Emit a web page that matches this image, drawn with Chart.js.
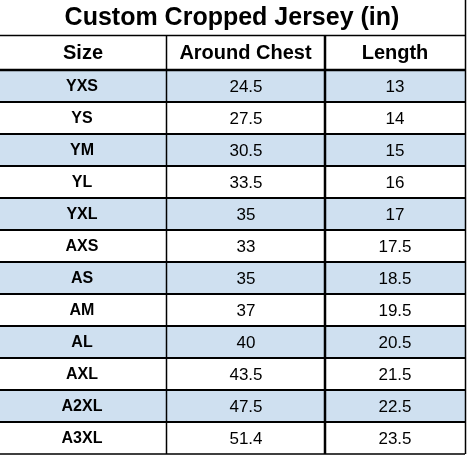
<!DOCTYPE html>
<html><head><meta charset="utf-8">
<script src="https://cdn.jsdelivr.net/npm/chart.js@4/dist/chart.umd.min.js"></script>
<style>html,body{margin:0;padding:0;background:#fff;}#wrap{width:467px;height:458px;}</style>
</head><body><div id="wrap"><canvas id="c" width="467" height="458"></canvas></div>
<script>
const title = "Custom Cropped Jersey (in)";
const headers = ["Size", "Around Chest", "Length"];
const sizes = ["YXS","YS","YM","YL","YXL","AXS","AS","AM","AL","AXL","A2XL","A3XL"];
const chest = ["24.5","27.5","30.5","33.5","35","33","35","37","40","43.5","47.5","51.4"];
const lengths = ["13","14","15","16","17","17.5","18.5","19.5","20.5","21.5","22.5","23.5"];
const colEdges = [0, 166, 325, 465];

const tablePlugin = {
  id: 'table',
  afterDraw(chart) {
    const ctx = chart.ctx, y = chart.scales.y, a = chart.chartArea;
    const rowH = (a.bottom - a.top) / sizes.length;
    ctx.save();
    sizes.forEach((s, i) => {
      const cy = y.getPixelForValue(i);
      if (i % 2 === 0) { ctx.fillStyle = '#cfe0f0'; ctx.fillRect(0, cy - rowH/2, 465, rowH); }
    });
    ctx.fillStyle = '#000'; ctx.textAlign = 'center'; ctx.textBaseline = 'middle';
    ctx.font = 'bold 25px "Liberation Sans", Arial';
    ctx.fillText(title, 232, 18);
    ctx.font = 'bold 20px "Liberation Sans", Arial';
    headers.forEach((h, j) => ctx.fillText(h, (colEdges[j] + colEdges[j+1]) / 2, 53));
    sizes.forEach((s, i) => {
      const cy = y.getPixelForValue(i) + 1;
      ctx.font = 'bold 16px "Liberation Sans", Arial';
      ctx.fillText(s, 82, cy);
      ctx.font = '17px "Liberation Sans", Arial';
      ctx.fillText(chest[i], 246, cy);
      ctx.font = '17px "Liberation Sans", Arial';
      ctx.fillText(lengths[i], 395, cy);
    });
    ctx.strokeStyle = '#000';
    ctx.lineWidth = 1.5;
    ctx.beginPath();
    ctx.moveTo(0, 35.5); ctx.lineTo(465, 35.5);
    ctx.moveTo(465.5, 0); ctx.lineTo(465.5, a.bottom);
    ctx.moveTo(166.5, 35); ctx.lineTo(166.5, a.bottom);
    ctx.moveTo(0, a.bottom); ctx.lineTo(465, a.bottom);
    ctx.stroke();
    ctx.lineWidth = 2.5;
    ctx.beginPath();
    ctx.moveTo(325, 35); ctx.lineTo(325, a.bottom);
    ctx.moveTo(0, a.top); ctx.lineTo(465, a.top);
    ctx.stroke();
    ctx.lineWidth = 2;
    ctx.beginPath();
    for (let i = 1; i < sizes.length; i++) {
      const ly = a.top + rowH * i;
      ctx.moveTo(0, ly); ctx.lineTo(465, ly);
    }
    ctx.stroke();
    ctx.restore();
  }
};

new Chart(document.getElementById('c'), {
  type: 'bar',
  data: { labels: sizes, datasets: [{ data: sizes.map(() => null) }] },
  options: {
    indexAxis: 'y', responsive: false, animation: false, devicePixelRatio: 1,
    layout: { padding: { top: 70, bottom: 4, left: 0, right: 2 } },
    plugins: { legend: { display: false }, tooltip: { enabled: false } },
    scales: {
      y: { display: false, offset: true },
      x: { display: false }
    }
  },
  plugins: [tablePlugin]
});
</script></body></html>
